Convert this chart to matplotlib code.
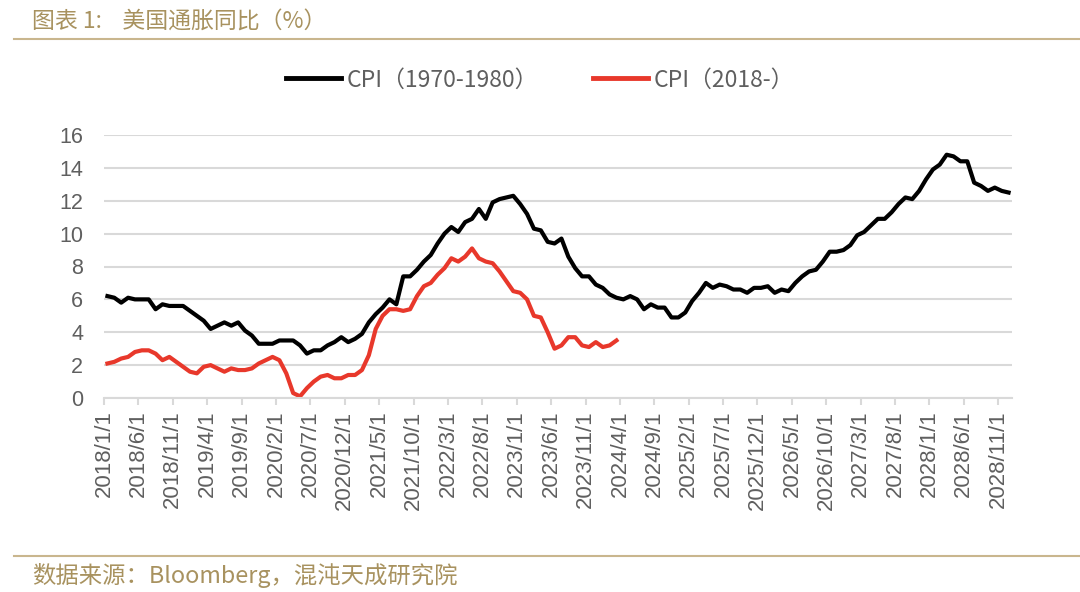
import matplotlib
matplotlib.use('Agg')
import numpy as np
import matplotlib.pyplot as plt

plt.rcParams['font.family'] = ['Liberation Sans', 'Noto Sans CJK SC', 'DejaVu Sans']

# monthly tick labels, 2018/1 .. 2028/12
months = ['%d/%d/1' % (2018 + i // 12, i % 12 + 1) for i in range(132)]

# CPI YoY, 1970/1 - 1980/12
cpi_1970 = [6.2, 6.1, 5.8, 6.1, 6.0, 6.0, 6.0, 5.4, 5.7, 5.6, 5.6, 5.6,
            5.3, 5.0, 4.7, 4.2, 4.4, 4.6, 4.4, 4.6, 4.1, 3.8, 3.3, 3.3,
            3.3, 3.5, 3.5, 3.5, 3.2, 2.7, 2.9, 2.9, 3.2, 3.4, 3.7, 3.4,
            3.6, 3.9, 4.6, 5.1, 5.5, 6.0, 5.7, 7.4, 7.4, 7.8, 8.3, 8.7,
            9.4, 10.0, 10.4, 10.1, 10.7, 10.9, 11.5, 10.9, 11.9, 12.1, 12.2, 12.3,
            11.8, 11.2, 10.3, 10.2, 9.5, 9.4, 9.7, 8.6, 7.9, 7.4, 7.4, 6.9,
            6.7, 6.3, 6.1, 6.0, 6.2, 6.0, 5.4, 5.7, 5.5, 5.5, 4.9, 4.9,
            5.2, 5.9, 6.4, 7.0, 6.7, 6.9, 6.8, 6.6, 6.6, 6.4, 6.7, 6.7,
            6.8, 6.4, 6.6, 6.5, 7.0, 7.4, 7.7, 7.8, 8.3, 8.9, 8.9, 9.0,
            9.3, 9.9, 10.1, 10.5, 10.9, 10.9, 11.3, 11.8, 12.2, 12.1, 12.6, 13.3,
            13.9, 14.2, 14.8, 14.7, 14.4, 14.4, 13.1, 12.9, 12.6, 12.8, 12.6, 12.5]

# CPI YoY, 2018/1 - 2024/3
cpi_2018 = [2.1, 2.2, 2.4, 2.5, 2.8, 2.9, 2.9, 2.7, 2.3, 2.5, 2.2, 1.9,
            1.6, 1.5, 1.9, 2.0, 1.8, 1.6, 1.8, 1.7, 1.7, 1.8, 2.1, 2.3,
            2.5, 2.3, 1.5, 0.3, 0.1, 0.6, 1.0, 1.3, 1.4, 1.2, 1.2, 1.4,
            1.4, 1.7, 2.6, 4.2, 5.0, 5.4, 5.4, 5.3, 5.4, 6.2, 6.8, 7.0,
            7.5, 7.9, 8.5, 8.3, 8.6, 9.1, 8.5, 8.3, 8.2, 7.7, 7.1, 6.5,
            6.4, 6.0, 5.0, 4.9, 4.0, 3.0, 3.2, 3.7, 3.7, 3.2, 3.1, 3.4,
            3.1, 3.2, 3.5]

gold = '#a8925f'
rule = '#c9b68e'
grey = '#5f5f5f'
cjk = ['Noto Sans CJK SC', 'DejaVu Sans']

fig = plt.figure(figsize=(10.8, 5.92), dpi=100)
ax = fig.add_axes([104 / 1080, 1 - 398 / 592, 908 / 1080, 263 / 592])

x1 = np.arange(len(cpi_1970)) + 0.5
x2 = np.arange(len(cpi_2018)) + 0.5
ax.plot(x1, cpi_1970, color='black', lw=3, label='CPI（1970-1980）', solid_joinstyle='round')
ax.plot(x2, cpi_2018, color='#e8382b', lw=3, label='CPI（2018-）', solid_joinstyle='round')

ax.set_xlim(0, len(months))
ax.set_ylim(0, 16)
ax.set_yticks(range(0, 17, 2))
ax.set_xticks(range(0, len(months), 5))
ax.set_xticklabels(months[::5], rotation=90)
ax.tick_params(axis='y', length=0, labelsize=15.5, colors=grey, pad=15)
ax.tick_params(axis='x', length=5, width=1.5, color='#d9d9d9', labelsize=16, colors=grey, pad=4)
ax.grid(axis='y', color='#d9d9d9', lw=1.5)
ax.set_axisbelow(True)
for s in ['left', 'right', 'top']:
    ax.spines[s].set_visible(False)
ax.spines['bottom'].set_color('#d9d9d9')
ax.spines['bottom'].set_linewidth(1.5)

leg = fig.legend(loc='center', bbox_to_anchor=(0.5, 1 - 80 / 592), ncol=2, frameon=False,
                 handlelength=2.4, columnspacing=2.4, handletextpad=0.25,
                 prop={'family': cjk, 'size': 16.5})
for t in leg.get_texts():
    t.set_color(grey)
for h in leg.get_lines():
    h.set_linewidth(3.5)

fig.text(32 / 1080, 1 - 22 / 592, '图表 1:    美国通胀同比（%）', color=gold, fontsize=16.5,
         family=cjk, va='center', ha='left')
fig.add_artist(plt.Line2D([14 / 1080, 1], [1 - 39 / 592] * 2, color=rule, lw=1.5))
fig.add_artist(plt.Line2D([14 / 1080, 1], [1 - 556 / 592] * 2, color=rule, lw=1.5))
fig.text(32 / 1080, 1 - 575 / 592, '数据来源：Bloomberg，混沌天成研究院', color=gold, fontsize=16.8,
         family=cjk, va='center', ha='left')

fig.savefig('out.png', dpi=100)
plt.close(fig)
